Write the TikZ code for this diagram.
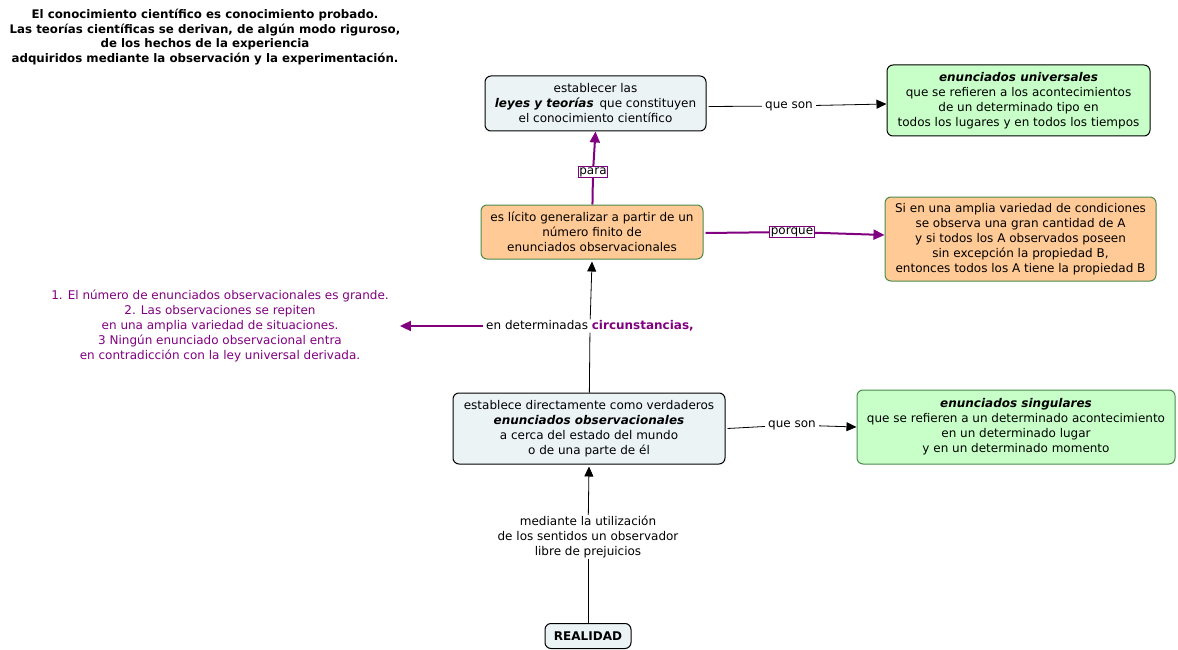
\documentclass[tikz,border=0pt]{standalone}
\usepackage{fontspec}
\setmainfont{DejaVu Sans}
\usetikzlibrary{arrows.meta}

\definecolor{boxblue}{HTML}{EBF3F5}
\definecolor{boxgreen}{HTML}{C8FFC8}
\definecolor{boxorange}{HTML}{FFCA96}
\definecolor{edgegreen}{HTML}{4A8A4A}
\definecolor{conpurple}{HTML}{800080}

\tikzset{
  concept/.style={draw, line width=1pt, rounded corners=6pt, align=center, inner sep=2pt,
    font=\fontsize{12}{15}\selectfont},
  bluebox/.style={concept, fill=boxblue, draw=black},
  greenbox/.style={concept, fill=boxgreen},
  orangebox/.style={concept, fill=boxorange, draw=edgegreen},
  linklabel/.style={align=center, inner xsep=3pt, inner ysep=1pt, font=\fontsize{12}{15}\selectfont},
  purplelabel/.style={linklabel, draw=conpurple, line width=0.8pt, fill=white, inner xsep=1pt, inner ysep=0.5pt},
  blackline/.style={draw=black, line width=0.8pt},
  blackarrow/.style={blackline, -{Triangle[length=10pt,width=9pt]}},
  purpleline/.style={draw=conpurple, line width=2pt},
  purplearrow/.style={purpleline, -{Triangle[length=11pt,width=10pt]}}
}

\begin{document}
\begin{tikzpicture}[x=1pt,y=-1pt]
\useasboundingbox (0,0) rectangle (1178,650);

% title
\node[align=center, font=\fontsize{11.8}{14.5}\selectfont\bfseries] (title) at (205,37)
  {El conocimiento científico es conocimiento probado.\\
   Las teorías científicas se derivan, de algún modo riguroso,\\
   de los hechos de la experiencia\\
   adquiridos mediante la observación y la experimentación.};

% concepts
\node[bluebox, minimum width=221pt, minimum height=55pt] (leyes) at (595.5,103.5)
  {establecer las\\ \textbf{\textit{leyes y teorías}}\, que constituyen\\ el conocimiento científico};
\node[greenbox, draw=black, minimum width=263pt, minimum height=71pt] (univ) at (1018.5,100.5)
  {\textbf{\textit{enunciados universales}}\\ que se refieren a los acontecimientos\\ de un determinado tipo en\\ todos los lugares y en todos los tiempos};
\node[orangebox, minimum width=222pt, minimum height=54pt] (licito) at (592,232)
  {es lícito generalizar a partir de un\\ número finito de\\ enunciados observacionales};
\node[orangebox, minimum width=271pt, minimum height=84pt] (sien) at (1020.5,239)
  {Si en una amplia variedad de condiciones\\ se observa una gran cantidad de A\\ y si todos los A observados poseen\\ sin excepción la propiedad B,\\ entonces todos los A tiene la propiedad B};
\node[linklabel, text=conpurple] (cond) at (220,326)
  {1. El número de enunciados observacionales es grande.\\ 2. Las observaciones se repiten\\ en una amplia variedad de situaciones.\\ 3 Ningún enunciado observacional entra\\ en contradicción con la ley universal derivada.};
\node[bluebox, minimum width=272pt, minimum height=71pt] (estab) at (589,428.5)
  {establece directamente como verdaderos\\ \textbf{\textit{enunciados observacionales}}\\ a cerca del estado del mundo\\ o de una parte de él};
\node[greenbox, draw=edgegreen, minimum width=318pt, minimum height=74pt] (sing) at (1016,427)
  {\textbf{\textit{enunciados singulares}}\\ que se refieren a un determinado acontecimiento\\ en un determinado lugar\\ y en un determinado momento};
\node[bluebox, minimum width=86pt, minimum height=25pt] (real) at (588,636)
  {\textbf{REALIDAD}};

% linking phrases
\node[linklabel] (queson1) at (789,106) {que son};
\node[purplelabel] (para) at (593,172) {para};
\node[purplelabel] (porque) at (792,232) {porque};
\node[linklabel] (circ) at (590,326) {en determinadas \textbf{\color{conpurple}circunstancias,}};
\node[linklabel] (queson2) at (792,425) {que son};
\node[linklabel] (mediante) at (588,537)
  {mediante la utilización\\ de los sentidos un observador\\ libre de prejuicios};

% connections
\draw[blackline] (leyes.east) ++(2,3) -- (queson1);
\draw[blackarrow] (queson1) -- ([yshift=-3.5pt]univ.west);
\draw[purpleline] (licito) -- (para);
\draw[purplearrow] (para) -- (leyes.south);
\draw[purpleline] (licito.east) ++(2,1) -- (porque);
\draw[purplearrow] (porque) -- ([yshift=4pt]sien.west);
\draw[blackline] (estab) -- (circ);
\draw[blackarrow] (circ) -- ([yshift=-2pt]licito.south);
\draw[purplearrow] (circ.west) -- ([xshift=8pt]cond.east);
\draw[blackline] (estab.east) ++(2,0) -- (queson2);
\draw[blackarrow] (queson2) -- (sing.west);
\draw[blackline] (real) -- (mediante);
\draw[blackarrow] (mediante) -- ([yshift=-2pt]estab.south);
\end{tikzpicture}
\end{document}
